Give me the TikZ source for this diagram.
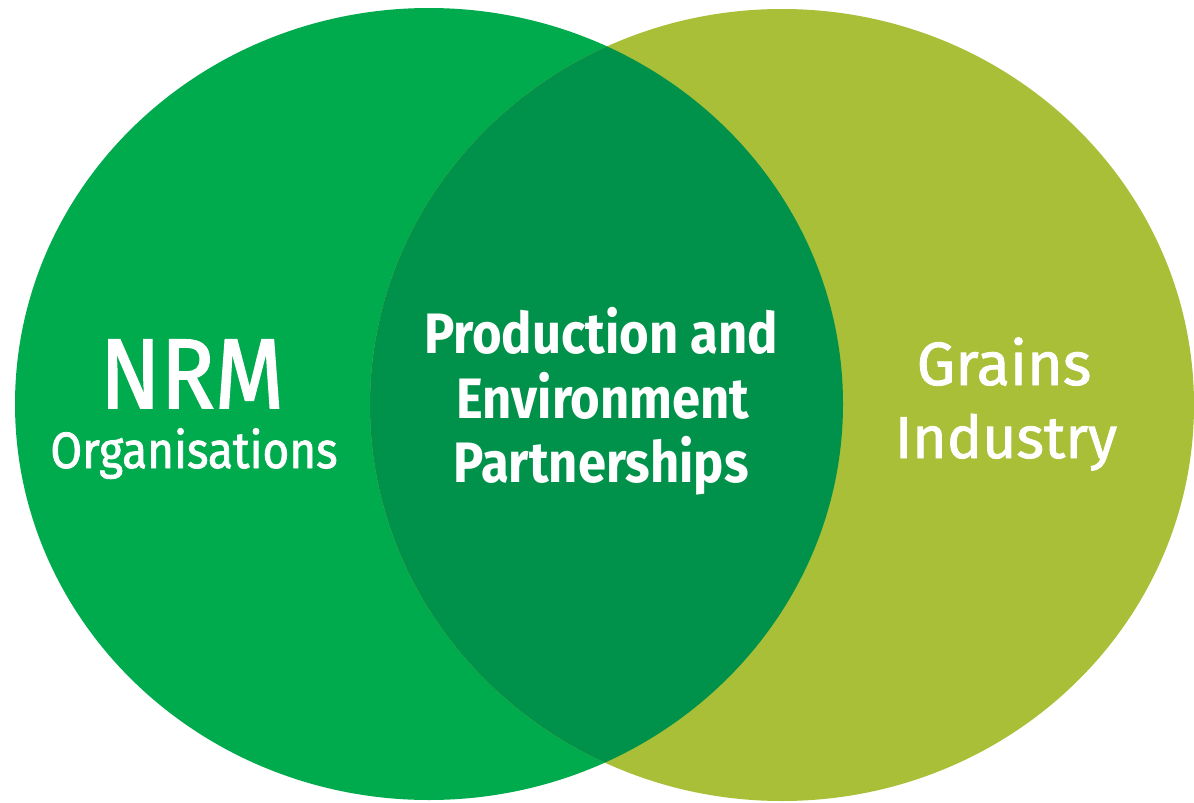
\documentclass[tikz,border=0pt]{standalone}
\usepackage{fontspec}
\setmainfont{Fira Sans}
\newfontfamily\labelmed{Fira Sans}[FakeBold=1.6, FakeStretch=0.9]
\newfontfamily\labelnarrow{Fira Sans}[FakeStretch=0.89]
\newfontfamily\labelwide{Fira Sans}[FakeBold=1.4]
\usepackage{tikz}

\definecolor{nrmgreen}{HTML}{00AB4E}
\definecolor{graingreen}{HTML}{A8BF37}
\definecolor{sharedgreen}{HTML}{00914A}

\begin{document}
\begin{tikzpicture}[x=1pt, y=-1pt, venn label/.style={white, inner sep=0, anchor=base}]
    \useasboundingbox (0,0) rectangle (1194,803);
    \fill[nrmgreen] (429,404) ellipse (414 and 396);
    \fill[graingreen] (782,405) ellipse (412 and 396);
    \begin{scope}
        \clip (429,404) ellipse (414 and 396);
        \fill[sharedgreen] (782,405) ellipse (412 and 396);
    \end{scope}
    \node[venn label, font=\labelmed\fontsize{99}{99}\selectfont] (nrm) at (192,408) {NRM};
    \node[venn label, font=\labelmed\fontsize{51}{51}\selectfont] (orgs) at (194,468) {Organisations};
    \node[venn label, font=\labelnarrow\bfseries\fontsize{57}{57}\selectfont] (prod) at (601,353) {Production and};
    \node[venn label, font=\labelnarrow\bfseries\fontsize{57}{57}\selectfont] (env) at (603,418) {Environment};
    \node[venn label, font=\labelnarrow\bfseries\fontsize{57}{57}\selectfont] (partner) at (601,482) {Partnerships};
    \node[venn label, font=\labelwide\fontsize{61}{61}\selectfont] (grains) at (1004,385) {Grains};
    \node[venn label, font=\labelwide\fontsize{59}{59}\selectfont] (industry) at (1006,458) {Industry};
\end{tikzpicture}
\end{document}
